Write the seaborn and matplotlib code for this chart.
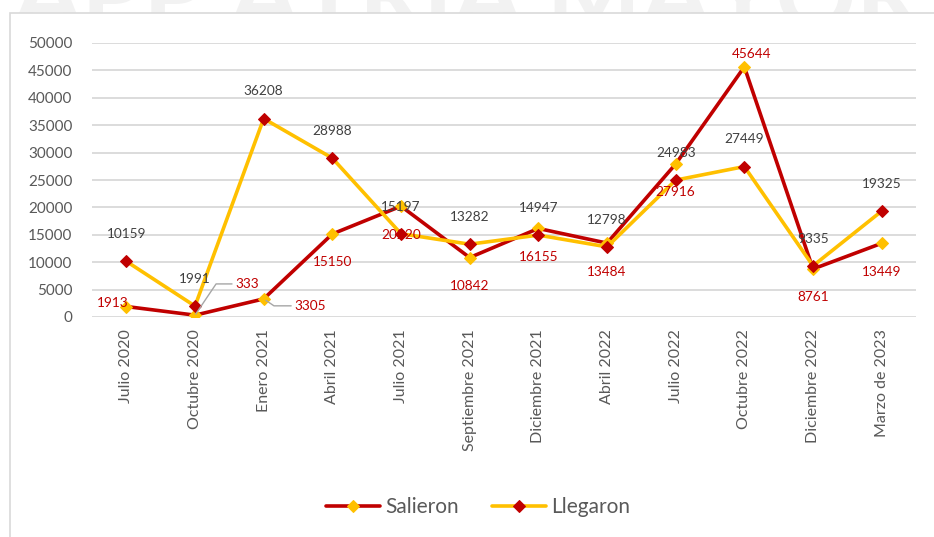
import matplotlib.pyplot as plt
import seaborn as sns
import pandas as pd
from matplotlib.patches import Rectangle

# datos
periodos = ["Julio 2020", "Octubre 2020", "Enero 2021", "Abril 2021", "Julio 2021",
            "Septiembre 2021", "Diciembre 2021", "Abril 2022", "Julio 2022",
            "Octubre 2022", "Diciembre 2022", "Marzo de 2023"]
salieron = [1913, 333, 3305, 15150, 20220, 10842, 16155, 13484, 27916, 45644, 8761, 13449]
llegaron = [10159, 1991, 36208, 28988, 15197, 13282, 14947, 12798, 24983, 27449, 9335, 19325]

ROJO = "#C00000"
AMARILLO = "#FFC000"
GRIS = "#595959"

sns.set_theme(style="white")
plt.rcParams['font.family'] = ['Lato', 'DejaVu Sans']

df = pd.DataFrame({"Periodo": periodos, "Salieron": salieron, "Llegaron": llegaron})

fig = plt.figure(figsize=(9.34, 5.37), dpi=100)
fig.patch.set_facecolor("white")

# marca de agua y marco del gráfico
fig.text(0.5, 0.944, "APP ATRIA MAYOR", ha="center", va="baseline", fontsize=72,
         fontweight="bold", color="#f2f2f2", zorder=0)
fig.add_artist(Rectangle((10 / 934, -0.1), 1.2, 1.1 - 13 / 537 + 0.0, transform=fig.transFigure,
                         facecolor="white", edgecolor="#d9d9d9", lw=1.2, zorder=0.5))

ax = fig.add_axes([92 / 934, 1 - 317 / 537, (916 - 92) / 934, (317 - 43) / 537])
ax.set_zorder(1)
ax.patch.set_alpha(0)

sns.lineplot(data=df, x="Periodo", y="Salieron", ax=ax, sort=False, color=ROJO, lw=2.6,
             marker="D", markersize=6.5, markerfacecolor=AMARILLO, markeredgecolor=AMARILLO,
             label="Salieron", zorder=3)
sns.lineplot(data=df, x="Periodo", y="Llegaron", ax=ax, sort=False, color=AMARILLO, lw=2.6,
             marker="D", markersize=6.5, markerfacecolor=ROJO, markeredgecolor=ROJO,
             label="Llegaron", zorder=3)

ax.set_ylim(0, 50000)
ax.set_xlim(-0.5, len(periodos) - 0.5)
ax.set_yticks(range(0, 50001, 5000))
ax.yaxis.grid(True, color="#d9d9d9", lw=1.3)
ax.set_axisbelow(True)
for s in ax.spines.values():
    s.set_visible(False)
ax.set_xlabel("")
ax.set_ylabel("")
ax.tick_params(axis="y", length=0, pad=14, labelsize=11, labelcolor=GRIS)
ax.tick_params(axis="x", length=0, pad=9, labelsize=11.5, labelcolor=GRIS, rotation=90)

# etiquetas de datos
for i, (s, l) in enumerate(zip(salieron, llegaron)):
    # Llegaron, arriba
    ax.annotate(str(l), (i, l), xytext=(0, 19.5), textcoords="offset points",
                ha="center", va="center", fontsize=9.8, color="#404040", zorder=4)
    # Salieron, abajo (con casos especiales)
    if i == 0:
        off = (-10, 2.5)
        ax.annotate(str(s), (i, s), xytext=off, textcoords="offset points",
                    ha="center", va="center", fontsize=9.8, color=ROJO, zorder=4)
    elif i == 1:
        ax.annotate(str(s), (i, s), xytext=(37.5, 22.5), textcoords="offset points",
                    ha="center", va="center", fontsize=9.8, color=ROJO, zorder=4,
                    arrowprops=dict(arrowstyle="-", color="#a6a6a6", lw=1,
                                    shrinkA=0, shrinkB=1,
                                    connectionstyle="angle,angleA=0,angleB=56"))
    elif i == 2:
        ax.annotate(str(s), (i, s), xytext=(33.5, -5), textcoords="offset points",
                    ha="center", va="center", fontsize=9.8, color=ROJO, zorder=4,
                    arrowprops=dict(arrowstyle="-", color="#a6a6a6", lw=1,
                                    shrinkA=0, shrinkB=2,
                                    connectionstyle="angle,angleA=0,angleB=-34"))
    elif i == 9:
        ax.annotate(str(s), (i, s), xytext=(5, 9.5), textcoords="offset points",
                    ha="center", va="center", fontsize=9.8, color=ROJO, zorder=4)
    else:
        ax.annotate(str(s), (i, s), xytext=(0, -20.5), textcoords="offset points",
                    ha="center", va="center", fontsize=9.8, color=ROJO, zorder=4)

handles, labels = ax.get_legend_handles_labels()
ax.get_legend().remove()
fig.legend(handles, labels, loc="center", bbox_to_anchor=(0.512, 0.056), ncol=2,
           frameon=False, fontsize=15, handlelength=2.6, handletextpad=0.25,
           columnspacing=1.6, labelcolor=GRIS)

fig.savefig("out.png", dpi=100, facecolor="white")
